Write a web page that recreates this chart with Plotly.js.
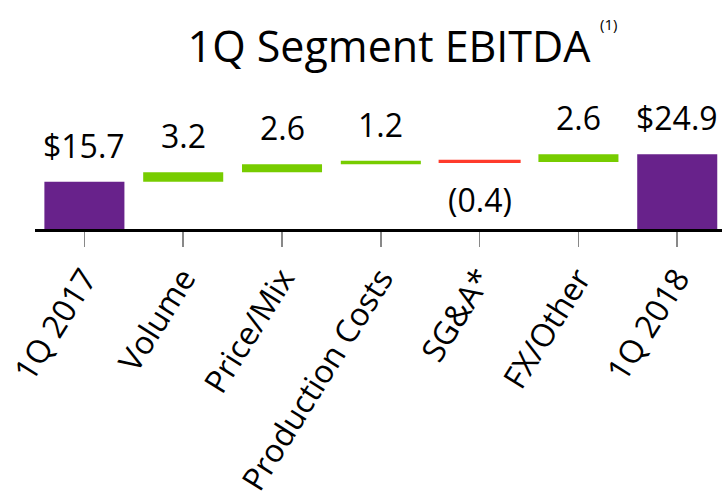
<!DOCTYPE html>
<html>
<head>
<meta charset="utf-8">
<script src="https://cdn.plot.ly/plotly-3.0.1.min.js"></script>
<style>
html, body { margin: 0; padding: 0; background: #ffffff; }
#chart { width: 722px; height: 492px; }
</style>
</head>
<body>
<div id="chart"></div>
<script>
const categories = ["1Q 2017", "Volume", "Price/Mix", "Production Costs", "SG&A*", "FX/Other", "1Q 2018"];
const measures = ["absolute", "relative", "relative", "relative", "relative", "relative", "total"];
const values = [15.7, 3.2, 2.6, 1.2, -0.4, 2.6, 24.9];
const valueLabels = ["$15.7", "3.2", "2.6", "1.2", "(0.4)", "2.6", "$24.9"];
const titleText = "1Q Segment EBITDA";
const footnoteMark = "(1)";

const PURPLE = "#68228B";
const GREEN = "#77CC00";
const RED = "#FF3B2B";
const FONT = "Open Sans, Noto Sans, sans-serif";

// running totals for label placement
let run = 0;
const annotations = [];
categories.forEach((c, i) => {
  let start, end;
  if (measures[i] === "absolute") { start = 0; end = values[i]; run = end; }
  else if (measures[i] === "total") { start = 0; end = run; }
  else { start = run; end = run + values[i]; run = end; }
  const neg = end < start;
  annotations.push({
    x: c, y: neg ? Math.min(start, end) : Math.max(start, end),
    xref: "x", yref: "y",
    text: valueLabels[i], showarrow: false,
    xanchor: "center", yanchor: neg ? "top" : "bottom",
    yshift: neg ? -14 : 13,
    font: { family: FONT, size: 32, color: "#000000" }
  });
});
annotations.push({
  text: footnoteMark, showarrow: false,
  xref: "paper", yref: "paper",
  x: (608 - 35) / 687, y: (229 - 23.5) / 129,
  xanchor: "center", yanchor: "middle",
  font: { family: FONT, size: 15, color: "#000000" }
});

const trace = {
  type: "waterfall",
  x: categories,
  y: values,
  measure: measures,
  connector: { visible: false },
  increasing: { marker: { color: GREEN, line: { color: GREEN, width: 0 } } },
  decreasing: { marker: { color: RED, line: { color: RED, width: 2 } } },
  totals: { marker: { color: PURPLE, line: { color: PURPLE, width: 0 } } },
  hoverinfo: "skip",
  textinfo: "none"
};

const layout = {
  width: 722, height: 492,
  margin: { l: 35, r: 0, t: 100, b: 263, pad: 0 },
  paper_bgcolor: "#ffffff", plot_bgcolor: "#ffffff",
  showlegend: false,
  waterfallgap: 0.19,
  title: {
    text: titleText,
    x: 389 / 722, xref: "container", xanchor: "center",
    y: 1 - 47 / 492, yref: "container", yanchor: "middle",
    font: { family: FONT, size: 43, color: "#000000" }
  },
  xaxis: {
    type: "category",
    range: [-0.5, 6.453],
    showline: true, linecolor: "#000000", linewidth: 3,
    ticks: "outside", ticklen: 15, tickwidth: 1.5, tickcolor: "#888888",
    tickangle: -58,
    tickfont: { family: FONT, size: 32, color: "#000000" },
    showgrid: false, zeroline: false, automargin: false, fixedrange: true
  },
  yaxis: {
    range: [0, 42.9],
    visible: false, showgrid: false, zeroline: false, fixedrange: true
  },
  annotations: annotations
};

Plotly.newPlot("chart", [trace], layout, { staticPlot: true, displayModeBar: false });
</script>
</body>
</html>
